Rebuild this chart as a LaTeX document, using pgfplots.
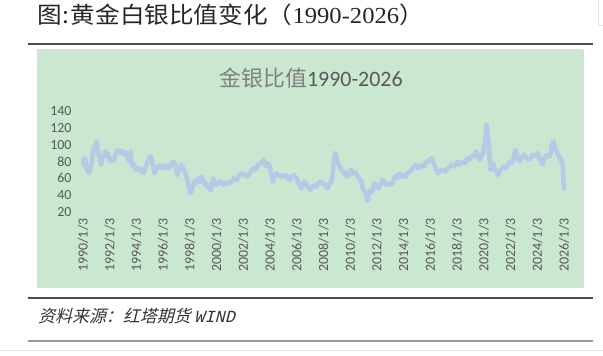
\documentclass[border=0pt]{standalone}
\usepackage{fontspec}
\usepackage{pgfplots}
\pgfplotsset{compat=1.18}
\setmainfont{Carlito}
\newfontfamily\cjk{Noto Sans CJK SC}
\newfontfamily\cjkit{Noto Sans CJK SC}[FakeSlant=0.25]
\newfontfamily\monoit{Liberation Mono}[FakeSlant=0.25]
\newfontfamily\titleserif{Liberation Serif}
\definecolor{bg}{RGB}{201,232,207}
\definecolor{txt}{RGB}{89,89,89}
\definecolor{grid}{RGB}{217,217,217}
\definecolor{ln}{RGB}{182,201,230}
\pgfplotstableread{
x y
1990.00 82
1990.08 76
1990.15 84
1990.25 72
1990.35 68
1990.45 66
1990.55 70
1990.65 80
1990.72 90
1990.80 96
1990.88 92
1990.95 100
1991.02 104
1991.08 97
1991.15 88
1991.25 84
1991.35 76
1991.45 84
1991.55 88
1991.65 92
1991.75 86
1991.85 90
1991.95 82
1992.05 84
1992.15 80
1992.25 84
1992.35 82
1992.45 90
1992.55 93
1992.65 92
1992.75 90
1992.85 93
1992.95 90
1993.05 92
1993.15 88
1993.25 90
1993.35 86
1993.45 80
1993.52 88
1993.58 92
1993.65 80
1993.75 74
1993.85 76
1993.95 70
1994.05 72
1994.15 70
1994.25 72
1994.35 68
1994.45 70
1994.55 66
1994.65 72
1994.75 76
1994.85 80
1994.95 84
1995.05 86
1995.15 82
1995.25 74
1995.35 66
1995.45 70
1995.55 74
1995.65 72
1995.75 76
1995.85 72
1995.95 74
1996.05 72
1996.15 76
1996.25 73
1996.35 75
1996.45 72
1996.55 76
1996.65 78
1996.75 80
1996.85 78
1996.95 72
1997.05 64
1997.15 68
1997.25 72
1997.35 76
1997.45 74
1997.55 70
1997.65 66
1997.75 62
1997.85 56
1997.95 48
1998.05 42
1998.15 46
1998.25 52
1998.35 56
1998.45 54
1998.55 58
1998.65 60
1998.75 56
1998.85 62
1998.95 58
1999.05 56
1999.15 52
1999.25 54
1999.35 50
1999.45 48
1999.55 46
1999.65 52
1999.75 60
1999.85 56
1999.95 52
2000.1 54
2000.3 56
2000.5 52
2000.7 55
2000.9 54
2001.1 56
2001.3 60
2001.5 58
2001.7 64
2001.9 66
2002.1 64
2002.3 62
2002.5 66
2002.7 72
2002.9 70
2003.1 76
2003.3 78
2003.5 82
2003.6 78
2003.7 74
2003.85 78
2003.95 76
2004.1 66
2004.2 56
2004.3 62
2004.45 66
2004.6 64
2004.75 62
2004.9 64
2005.05 62
2005.2 64
2005.35 60
2005.5 58
2005.65 62
2005.8 64
2005.95 60
2006.1 56
2006.25 50
2006.35 48
2006.5 54
2006.6 56
2006.75 52
2006.9 48
2007.0 46
2007.15 50
2007.3 52
2007.45 50
2007.6 54
2007.75 56
2007.9 54
2008.05 54
2008.2 50
2008.3 48
2008.45 54
2008.6 56
2008.72 70
2008.82 86
2008.9 90
2009.0 82
2009.1 78
2009.2 74
2009.35 70
2009.5 66
2009.6 68
2009.75 62
2009.9 64
2010.05 70
2010.2 66
2010.35 68
2010.5 64
2010.65 60
2010.8 58
2010.95 48
2011.1 44
2011.2 40
2011.3 33
2011.4 40
2011.5 46
2011.65 44
2011.8 54
2011.95 52
2012.1 48
2012.25 52
2012.4 58
2012.55 56
2012.7 52
2012.85 54
2013.0 52
2013.15 54
2013.3 60
2013.45 64
2013.55 60
2013.7 66
2013.85 62
2014.0 64
2014.15 62
2014.3 66
2014.45 68
2014.6 70
2014.75 74
2014.9 76
2015.05 72
2015.2 74
2015.35 76
2015.5 74
2015.65 78
2015.8 80
2015.95 82
2016.1 84
2016.2 80
2016.3 76
2016.45 70
2016.55 66
2016.7 68
2016.85 70
2017.0 70
2017.15 68
2017.3 72
2017.45 74
2017.6 76
2017.75 74
2017.9 76
2018.05 80
2018.15 76
2018.3 78
2018.45 80
2018.6 78
2018.75 84
2018.9 82
2019.05 86
2019.2 86
2019.35 90
2019.45 92
2019.55 86
2019.7 82
2019.85 88
2019.95 90
2020.05 100
2020.15 112
2020.2 124
2020.25 120
2020.3 110
2020.38 100
2020.45 80
2020.5 70
2020.6 74
2020.7 78
2020.8 72
2020.95 68
2021.05 64
2021.2 68
2021.35 72
2021.5 74
2021.65 72
2021.8 76
2021.95 80
2022.1 78
2022.25 86
2022.35 94
2022.45 90
2022.55 84
2022.65 80
2022.75 82
2022.9 86
2023.05 88
2023.2 84
2023.35 82
2023.5 84
2023.65 88
2023.8 86
2023.95 88
2024.05 90
2024.15 84
2024.3 80
2024.4 76
2024.5 82
2024.6 86
2024.75 88
2024.9 86
2025.0 90
2025.1 100
2025.2 104
2025.3 98
2025.4 94
2025.5 90
2025.6 88
2025.7 84
2025.8 82
2025.9 76
2025.95 60
2026.0 48
}\ratio
\begin{document}
\begin{tikzpicture}[x=1bp,y=1bp]
\path[use as bounding box] (0,0) rectangle (603,355);
% title
\node[anchor=west, inner sep=0, text=black!85, font=\cjk\fontsize{23}{23}\selectfont] at (37,340) {\scalebox{1.075}[1]{图\hspace{1bp}:\hspace{1bp}黄金白银比值变化（{\titleserif 1990-2026}）}};
\draw[line width=1.5bp, color=black!70] (28,311) -- (593,311);
\draw[line width=0.8bp, color=black!12] (37,306) -- (583,306);
\draw[line width=0.8bp, color=black!10] (598,355) -- (598,330) -- (603,330);
% chart area
\filldraw[fill=bg, draw=black!15, line width=0.6bp] (37,68) rectangle (583,305);
\node[text=txt, inner sep=0, font=\fontsize{22}{22}\selectfont] at (311,277) {{\cjk\color{black!50}金银比值}1990-2026};
\begin{axis}[
  at={(83bp,143bp)}, anchor=south west,
  scale only axis, width=481bp, height=101bp,
  xmin=1990, xmax=2026, ymin=20, ymax=140,
  enlargelimits=false,
  clip=false,
  axis x line*=bottom, axis y line*=left,
  x axis line style={draw=grid, line width=1bp},
  y axis line style={draw=none},
  ytick={20,40,...,140},
  xtick={1990,1992,...,2026},
  xticklabels={1990/1/3,1992/1/3,1994/1/3,1996/1/3,1998/1/3,2000/1/3,2002/1/3,2004/1/3,2006/1/3,2008/1/3,2010/1/3,2012/1/3,2014/1/3,2016/1/3,2018/1/3,2020/1/3,2022/1/3,2024/1/3,2026/1/3},
  ymajorgrids,
  major grid style={draw=grid, line width=1bp},
  tick align=outside,
  xtick style={draw=grid, line width=0.8bp},
  major tick length=3bp,
  ytick style={draw=none},
  /pgf/number format/assume math mode=true,
  tick label style={text=txt, font=\fontsize{14}{14}\selectfont},
  yticklabel style={anchor=east, xshift=-5bp},
  xticklabel style={rotate=90, anchor=east, xshift=0bp},
]
\addplot[color=ln, line width=4.5bp, line join=round, line cap=round] table[x=x,y=y] {\ratio};
\end{axis}
% source
\draw[line width=1.2bp, color=black!70] (28,57) -- (593,57);
\node[anchor=west, inner sep=0, text=black!80, font=\cjkit\fontsize{17}{17}\selectfont] at (38,39) {资料来源：红塔期货 {\monoit WIND}};
\draw[line width=1.5bp, color=black!40] (28,14) -- (593,14);
\draw[line width=0.8bp, color=black!10] (0,5) -- (603,5);
\end{tikzpicture}
\end{document}
